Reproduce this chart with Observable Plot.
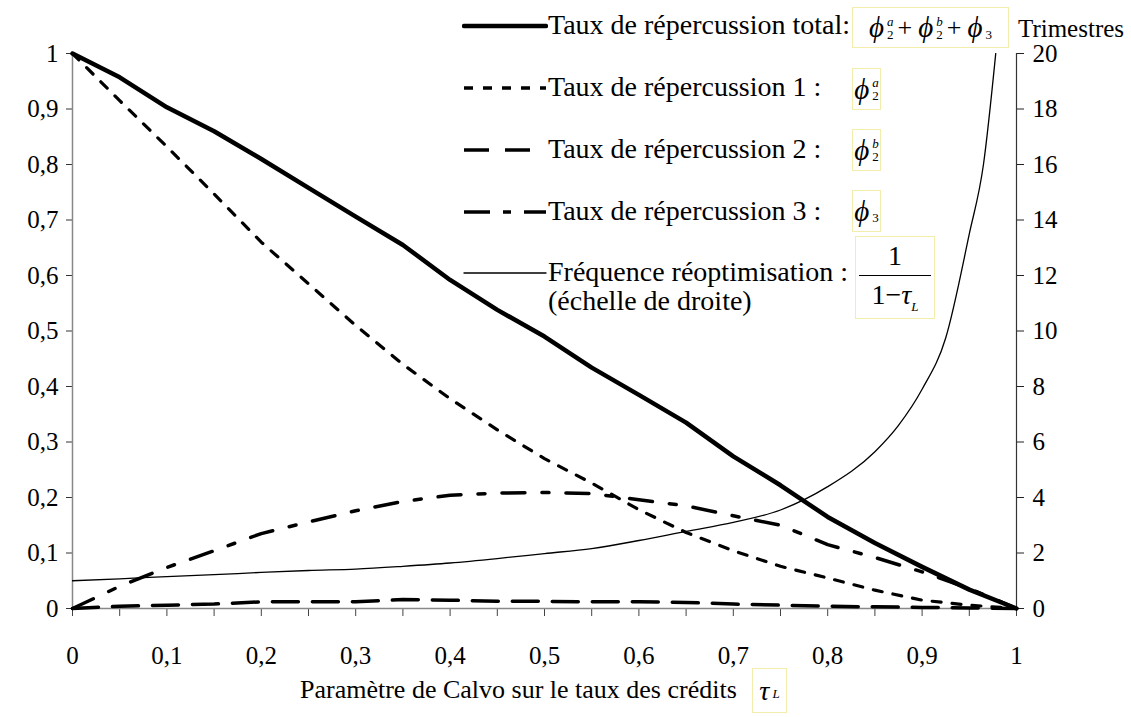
<!DOCTYPE html>
<html><head><meta charset="utf-8">
<script src="https://cdn.jsdelivr.net/npm/d3@7"></script>
<script src="https://cdn.jsdelivr.net/npm/@observablehq/plot@0.6"></script>
<style>
body{margin:0;background:#fff;}
#wrap, #wrap div, #wrap span, #wrap i, #wrap sub, #wrap svg, #wrap svg text{font-family:"Liberation Serif","Times New Roman",Times,serif !important;}
#wrap{position:relative;width:1131px;height:717px;overflow:hidden}
.lg{position:absolute;font-size:28px;white-space:nowrap;color:#000;line-height:1}
.box{position:absolute;border:1.5px solid #f2edaa;box-sizing:border-box;display:flex;align-items:center;justify-content:center;white-space:nowrap;font-size:26px;line-height:1}
.phi{font-style:italic;font-size:29px}
.ss{display:inline-block;vertical-align:-6px;line-height:1;font-size:13px;margin-left:3px}
.ss span{display:block}
.ss .sp{font-style:italic}
.pl{margin:0 6px 0 4px}
.frac{display:flex;flex-direction:column;align-items:center;font-size:28px;line-height:1}
.frac .bar{width:72px;border-top:1.5px solid #000;margin:5px 0 5px}
svg.lgs{position:absolute}
</style></head><body><div id="wrap"></div>
<script>
// τ_L values (x axis)
const tau = [0,0.05,0.1,0.15,0.2,0.25,0.3,0.35,0.4,0.45,0.5,0.55,0.6,0.65,0.7,0.75,0.8,0.85,0.9,0.95,1];
// Taux de répercussion total
const total = [1.0,0.957,0.903,0.86,0.81,0.758,0.706,0.655,0.592,0.538,0.49,0.434,0.385,0.335,0.274,0.222,0.165,0.118,0.075,0.034,0.0];
// Taux de répercussion 1 (phi2a)
const phi2a = [1.0,0.915,0.832,0.747,0.66,0.585,0.51,0.44,0.378,0.322,0.27,0.226,0.178,0.137,0.104,0.076,0.055,0.033,0.015,0.006,0.0];
// Taux de répercussion 2 (phi2b)
const phi2b = [0,0.004,0.006,0.008,0.012,0.012,0.012,0.016,0.015,0.013,0.013,0.012,0.012,0.011,0.008,0.006,0.004,0.003,0.002,0.001,0];
// Taux de répercussion 3 (phi3)
const phi3 = [0,0.04,0.074,0.104,0.135,0.156,0.176,0.193,0.204,0.208,0.209,0.207,0.196,0.185,0.167,0.15,0.115,0.092,0.066,0.036,0];
// Fréquence réoptimisation (right scale, trimestres)
const freqTau = [0,0.05,0.1,0.15,0.2,0.25,0.3,0.35,0.4,0.45,0.5,0.55,0.6,0.65,0.7,0.75,0.8,0.85,0.875,0.9,0.925,0.95,0.965,0.978];
const freqVal = [1.0,1.07,1.15,1.22,1.3,1.37,1.42,1.52,1.64,1.8,1.98,2.16,2.45,2.78,3.1,3.55,4.39,5.65,6.6,7.9,9.75,13.5,16,20];

// Axis ticks
const leftTicks = [0,0.1,0.2,0.3,0.4,0.5,0.6,0.7,0.8,0.9,1];
const leftLabels = ["0","0,1","0,2","0,3","0,4","0,5","0,6","0,7","0,8","0,9","1"];
const rightTicks = [0,2,4,6,8,10,12,14,16,18,20];
const rightLabels = ["0","2","4","6","8","10","12","14","16","18","20"];
const xTicks = [0,0.1,0.2,0.3,0.4,0.5,0.6,0.7,0.8,0.9,1];
const xLabels = ["0","0,1","0,2","0,3","0,4","0,5","0,6","0,7","0,8","0,9","1"];
const xMinorTicks = [0,0.05,0.1,0.15,0.2,0.25,0.3,0.35,0.4,0.45,0.5,0.55,0.6,0.65,0.7,0.75,0.8,0.85,0.9,0.95,1];
const rightMax = 20;

const rows = ys => tau.map((t,i)=>({t, v: ys[i]}));
const freq = freqTau.map((t,i)=>({t, v: freqVal[i]/rightMax}));
const rightPos = rightTicks.map(v => v/rightMax);

const font = "Liberation Serif, Times New Roman, serif";
const chart = Plot.plot({
  width:1131, height:717,
  marginLeft:72, marginRight:115, marginTop:53, marginBottom:109,
  style:{fontFamily:font, fontSize:"25px", color:"#000", background:"#fff", overflow:"visible"},
  x:{domain:[0,1]},
  y:{domain:[0,1]},
  marks:[
    Plot.axisY(leftTicks,{anchor:"left", tickSize:6, tickPadding:8, fontSize:25, fontFamily:font, stroke:"#333",
      tickFormat: d => leftLabels[leftTicks.indexOf(d)], label:null}),
    Plot.axisY(rightPos,{anchor:"right", tickSize:7, tickPadding:9, fontSize:25, fontFamily:font, stroke:"#222",
      tickFormat: d => rightLabels[rightPos.indexOf(d)], label:null}),
    Plot.axisX(xMinorTicks,{anchor:"bottom", tickSize:8, stroke:"#444", tickFormat: () => "", label:null}),
    Plot.axisX(xTicks,{anchor:"bottom", tickSize:0, tickPadding:38, fontSize:25, fontFamily:font,
      tickFormat: d => xLabels[xTicks.indexOf(d)], label:null}),
    Plot.ruleX([0],{stroke:"#888", strokeWidth:1.5}),
    Plot.ruleX([1],{stroke:"#333", strokeWidth:1.2}),
    Plot.ruleY([0],{stroke:"#888", strokeWidth:1.5}),
    Plot.line(rows(phi2b),{x:"t", y:"v", stroke:"#000", strokeWidth:3.5, strokeDasharray:"26,14"}),
    Plot.line(rows(phi3),{x:"t", y:"v", stroke:"#000", strokeWidth:3.5, strokeDasharray:"23,17,7,17"}),
    Plot.line(rows(phi2a),{x:"t", y:"v", stroke:"#000", strokeWidth:3.2, strokeDasharray:"9,11"}),
    Plot.line(freq,{x:"t", y:"v", stroke:"#000", strokeWidth:1.3, curve:"monotone-x", clip:true}),
    Plot.line(rows(total),{x:"t", y:"v", stroke:"#000", strokeWidth:4.5, strokeLinejoin:"round"})
  ]
});
const wrap = document.getElementById("wrap");
wrap.appendChild(chart);

function add(html){ wrap.insertAdjacentHTML("beforeend", html); }
function phi(sub, sup){
  return `<span class="phi">ϕ</span><span class="ss"><span class="sp">${sup||"&nbsp;"}</span><span>${sub}</span></span>`;
}
function sample(y, dash, w){
  add(`<svg class="lgs" style="left:462px;top:${y-6}px" width="86" height="12"><line x1="2" x2="84" y1="6" y2="6" stroke="#000" stroke-width="${w}" ${dash?`stroke-dasharray="${dash}"`:""} stroke-linecap="${dash?"butt":"round"}"/></svg>`);
}
// legend rows
const rowsY = [26, 88, 150, 212, 273];
sample(rowsY[0], null, 4.5);
sample(rowsY[1], "9,10", 3.5);
sample(rowsY[2], "25,16", 3.5);
sample(rowsY[3], "26,13,8,13", 3.5);
sample(rowsY[4], null, 1.3);
const labels = ["Taux de répercussion total:","Taux de répercussion 1 :","Taux de répercussion 2 :","Taux de répercussion 3 :","Fréquence réoptimisation :"];
labels.forEach((t,i)=> add(`<div class="lg" style="left:548px;top:${rowsY[i]-15}px">${t}</div>`));
add(`<div class="lg" style="left:548px;top:${302-15}px">(échelle de droite)</div>`);
add(`<div class="lg" style="left:1018px;top:16px;font-size:25px">Trimestres</div>`);

add(`<div class="box" style="left:852px;top:7px;width:157px;height:41px">${phi("2","a")}<span class="pl">+</span>${phi("2","b")}<span class="pl">+</span>${phi("3","")}</div>`);
add(`<div class="box" style="left:852px;top:68px;width:29px;height:42px">${phi("2","a")}</div>`);
add(`<div class="box" style="left:852px;top:129px;width:29px;height:42px">${phi("2","b")}</div>`);
add(`<div class="box" style="left:852px;top:190px;width:29px;height:42px">${phi("3","")}</div>`);
add(`<div class="box" style="left:855px;top:236px;width:80px;height:83px"><div class="frac"><span>1</span><span class="bar"></span><span>1−<i>τ</i><sub style="font-size:13px;font-style:italic">L</sub></span></div></div>`);

add(`<div class="lg" style="left:300px;top:677px;font-size:26px">Paramètre de Calvo sur le taux des crédits</div>`);
add(`<div class="box" style="left:752px;top:668px;width:35px;height:45px;font-size:28px"><i>τ</i><sub style="font-size:13px;font-style:italic;position:relative;top:3px">&nbsp;L</sub></div>`);
</script></body></html>
